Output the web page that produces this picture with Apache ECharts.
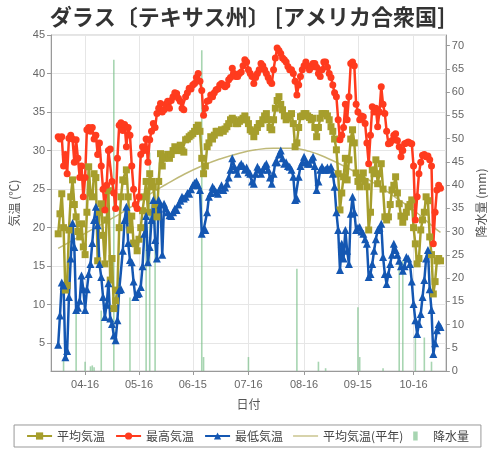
<!DOCTYPE html>
<html><head><meta charset="utf-8">
<script src="https://cdn.jsdelivr.net/npm/echarts@6/dist/echarts.min.js"></script>
<style>html,body{margin:0;padding:0;background:#fff}#c{width:495px;height:450px}</style>
</head><body><div id="c"></div>
<script>
// axis runs 03-28 .. 11-03 ; data runs 04-01 .. 10-31 (214 days)
const axisStart = [2023, 2, 28];
const axisDayCount = 221;
const leadPad = 4, tailPad = 3;
const tickLabels = ['04-16','05-16','06-15','07-16','08-16','09-15','10-16'];

const maxTemp = [
31.8,31.5,31.8,28,29.5,27,31.6,32,31.5,28.5,
31.4,29,26.5,28,24,26.5,32.7,33,32.5,33,
31.5,32,29.5,31,28,25,22.3,25.5,30,30.2,
26,24.5,22.5,29,33.3,33.6,32.6,33.4,30.5,33,
32,28,25,23,22.5,24,29.5,30.5,30,31.5,
28.5,31.4,32.5,33.5,33,34.8,35.5,36.1,35,35.3,
36,36.4,35.5,36.5,37,37.5,37.4,36.8,36.4,35.5,
35.3,37,37.5,38.1,38,38.5,38.7,39.5,40,39,
37.8,34.6,35.5,36.4,36.5,37.2,37,37.5,37.9,38,
38.5,38.7,38.5,38.3,38.5,39.2,39.5,40.7,40,39.6,
39.6,40,40.2,41,41.8,41.5,40.5,40,39.6,38.7,
39.5,40,40.5,41.3,41,40.5,40,39.5,39,38.7,
40.5,42,43.3,43,42.6,42,41.8,41.5,40.9,40.5,
40.5,40,39,37.2,38.5,39.6,40.5,41,41.5,41,
40.5,40.8,41.3,41.3,40.8,40,39.6,40.5,41.5,41.5,
40.8,40,39.5,38.5,37.5,37,34,31.4,32,33,
36,34,37,41.3,41.5,41,36,35,34,34.5,
34.4,33.5,31,28.3,32,35.7,35,35.5,33.1,35,
38.3,36,34.8,32.5,30.9,31,31.3,32,32.2,31.3,
30.5,29.2,30,30.9,31,31.1,31,30.9,28,21,
24,27,28.5,29.4,29.5,29.2,29.3,28.8,28,17.9,
22,24.9,25.5,25.1];

const minTemp = [
4.8,8.6,12.9,12.5,3.2,4,11,16,20.6,17.5,
9.3,9.6,10.5,13.8,12,9.3,12,14,15.3,18,
21,22.7,20.3,15.3,13.6,11,8.4,10,12.8,8.2,
7.5,6,5.4,8,11.9,12,17,21,22.7,18,
15.8,15.5,13,11,11.4,11.5,12.3,15,19.2,21.5,
15.5,17.5,21,23.6,18.4,16,23.6,23,16.5,23.1,
22.5,22,21.6,21.5,22,22.5,22.3,23,23.5,24,
23.8,24,24.5,24.4,25,25.5,25.8,26,25.5,24.9,
19.2,19.7,19.7,22,24,24.5,25.3,25,24.6,24.4,
25,25.5,24.9,25.2,25.7,26.5,27.5,29,28,27.5,
27,28,28.3,28,27.5,27.8,27.2,27,26,25.7,
27,27.9,27.5,27,27.5,28,28.3,27.5,26.5,25.7,
27,28.5,28.5,29.5,30,29,28.3,28.5,28,27.9,
27.5,26.6,23.6,23.8,26.6,28,28.5,29.2,28.5,28.3,
28.3,28.8,29.2,28,24.9,26,27.5,27.9,27.5,27.5,
27.8,27.5,27.9,27,25.3,22,19.7,14.5,17.9,16,
19.7,17,15.3,21.8,24,22,19.7,20,20.1,19.5,
19.2,18.5,17.9,13.6,14,15.3,17,18.5,19.7,20,
20.5,16.2,14,12.7,14,15.3,16.5,17.9,17.1,16.5,
15.7,15,14.4,15,16.2,16,15.3,13,10.1,8,
6.2,7.5,8.8,11,13.2,16,17.1,12,9.3,3.6,
5,6.7,7.5,7.1];

const avgTemp = [
19.2,21.8,24.4,20,11.9,12.5,19.7,24,26.2,23,
21.4,19.5,18.8,20.5,17.5,16.5,22,27.9,24.5,24,
27,26.5,15.7,22,23.1,19,15.3,21,24.8,13.2,
16,9.5,10.5,11.9,20,24,26.2,26,27.5,24,
19.7,21.5,18,17.9,17,18.5,20,22.2,24,26,
22,27,26,25.3,23,21.4,26,29.6,28,29,
29.2,29.5,29,29.5,30,30.5,30,30.2,30.7,30,
29.8,31.4,31.5,31.8,32,32.2,32.5,33,33.3,32.5,
29,27,28,30.5,31,31.8,31.5,32,32.5,32.5,
32.3,32.7,32.5,32.8,33.1,33.5,34,34.2,34,33.5,
33.5,33.8,34,34.2,34.5,34,33.5,32.7,32.5,31.8,
32.5,33,33.5,33.5,34,34.5,34.8,34,33,32.7,
34,35.5,36.5,37,36,35.3,34.5,34,34.2,34.5,
34.8,33.5,30.5,31,33,34.4,34.5,34.8,34.8,34.5,
34.3,34,34.2,33,31.8,33,34.2,34.8,34.8,34.8,
34.5,34,33.1,32.5,31.5,30.1,27,22.3,24.5,26.6,
29,26.2,28.8,31.5,32.7,31,27.1,26,25.3,26.5,
27.1,26,25.3,19.7,22,27.5,27,28.8,25.7,27,
28.3,25,21.4,21,21.4,23,24.9,25.5,26.6,24.5,
23.1,21.5,20.7,21.4,22,22.7,23,23.6,20,17.9,
15.3,16,19.7,21,22,24,23.5,18.8,16.5,11.4,
13,15.7,16,15.7];

// climatological normal, sampled every 10 days (day index from 04-01)
const normalDays = [0,10,20,30,40,50,60,70,80,90,100,110,120,130,140,150,160,170,180,190,200,210,213];
const normalVals = [17.3,18.6,19.9,21.2,22.6,24.2,25.6,26.9,28.0,28.9,29.6,30.1,30.3,30.3,29.9,29.0,27.9,26.6,25.2,23.6,21.9,19.9,19.4];

// precipitation (day index from 04-01, mm)
const rainDays = [3,10,15,18,19,20,24,31,40,49,51,54,80,81,106,133,145,149,167,168,181,190,192,199,204,208];
const rainMm   = [2.2,12.6,2,1,1.2,0.8,13,67,15.8,32,47,40,69,3,3,22,2,0.6,13.7,3,0.6,23.8,23.8,7.2,7.2,2];

// ---- build
const categories = [];
{
  const d0 = Date.UTC(axisStart[0], axisStart[1], axisStart[2]);
  for (let i = 0; i < axisDayCount; i++) {
    const d = new Date(d0 + i * 86400000);
    categories.push(String(d.getUTCMonth()+1).padStart(2,'0') + '-' + String(d.getUTCDate()).padStart(2,'0'));
  }
}
const pad = arr => Array(leadPad).fill(null).concat(arr, Array(tailPad).fill(null));
const nDays = maxTemp.length;
const normalFull = Array(nDays).fill(null);
normalDays.forEach((d, i) => normalFull[d] = normalVals[i]);
const rainFull = Array(nDays).fill(0);
rainDays.forEach((d, i) => rainFull[d] = rainMm[i]);

const isTick = (idx, val) => tickLabels.indexOf(val) >= 0;
const FONT = 'Liberation Sans, "Noto Sans CJK JP", sans-serif';
const JFONT = '"Noto Sans CJK JP", sans-serif';

const chart = echarts.init(document.getElementById('c'), null, {renderer: 'canvas'});
chart.setOption({
  animation: false,
  backgroundColor: '#fff',
  title: {
    text: 'ダラス〔テキサス州〕 [アメリカ合衆国]',
    left: 'center', top: 1,
    textStyle: {fontSize: 22, fontWeight: 'bold', color: '#333', fontFamily: JFONT}
  },
  grid: {left: 47, right: 39, top: 35, bottom: 79, show: true, borderColor: '#c8c8c8', borderWidth: 1},
  legend: {
    bottom: 3, left: 'center',
    borderColor: '#999', borderWidth: 1, padding: [5, 12],
    itemGap: 10, itemWidth: 25, itemHeight: 9,
    textStyle: {fontSize: 12, color: '#444', fontFamily: JFONT},
    data: [
      {name: '平均気温'}, {name: '最高気温'}, {name: '最低気温'},
      {name: '平均気温(平年)', icon: 'path://M0,0h40v2h-40z'},
      {name: '降水量', icon: 'path://M0,0h6v12h-6z'}
    ]
  },
  xAxis: {
    type: 'category', data: categories, boundaryGap: false,
    axisLine: {lineStyle: {color: '#999'}},
    axisTick: {interval: isTick, length: 4, lineStyle: {color: '#999'}},
    axisLabel: {interval: isTick, color: '#666', fontSize: 11, margin: 8, fontFamily: FONT},
    splitLine: {show: true, interval: isTick, lineStyle: {color: '#e6e6e6'}},
    name: '日付', nameLocation: 'middle', nameGap: 27,
    nameTextStyle: {fontSize: 12, color: '#555', fontFamily: JFONT}
  },
  yAxis: [
    {
      type: 'value', min: 1.4, max: 45, splitNumber: 9,
      axisLine: {show: true, lineStyle: {color: '#999'}},
      axisTick: {show: true, length: 4, lineStyle: {color: '#999'}},
      axisLabel: {showMinLabel: false, color: '#666', fontSize: 11, margin: 6, fontFamily: FONT},
      splitLine: {lineStyle: {color: '#e6e6e6'}},
      name: '気温 (℃)', nameLocation: 'middle', nameGap: 31,
      nameTextStyle: {fontSize: 12, color: '#555', fontFamily: JFONT}
    },
    {
      type: 'value', min: 0, max: 72.3, interval: 5, position: 'right',
      axisLine: {show: true, lineStyle: {color: '#999'}},
      axisTick: {show: true, length: 4, lineStyle: {color: '#999'}},
      axisLabel: {showMaxLabel: false, color: '#666', fontSize: 11, margin: 6, fontFamily: FONT},
      splitLine: {show: false},
      name: '降水量 (mm)', nameLocation: 'middle', nameGap: 24,
      nameTextStyle: {fontSize: 12, color: '#555', fontFamily: JFONT}
    }
  ],
  series: [
    {name: '平均気温', type: 'line', data: pad(avgTemp), symbol: 'rect', symbolSize: 7, showAllSymbol: true,
     itemStyle: {color: '#a69e2c'}, lineStyle: {width: 2.5, color: '#a69e2c'}, z: 3},
    {name: '最高気温', type: 'line', data: pad(maxTemp), symbol: 'circle', symbolSize: 7, showAllSymbol: true,
     itemStyle: {color: '#ff3b1e'}, lineStyle: {width: 2.5, color: '#ff3b1e'}, z: 3},
    {name: '最低気温', type: 'line', data: pad(minTemp), symbol: 'triangle', symbolSize: 8, showAllSymbol: true,
     itemStyle: {color: '#1457b2'}, lineStyle: {width: 2.5, color: '#1457b2'}, z: 3},
    {name: '平均気温(平年)', type: 'line', data: pad(normalFull), symbol: 'none', smooth: true,
     connectNulls: true, itemStyle: {color: '#bfb978'}, lineStyle: {width: 1.5, color: '#bfb978'}, z: 2},
    {name: '降水量', type: 'bar', yAxisIndex: 1, data: pad(rainFull), barWidth: 1.6,
     itemStyle: {color: 'rgba(120,190,135,0.65)'}, z: 1}
  ]
});
</script></body></html>
